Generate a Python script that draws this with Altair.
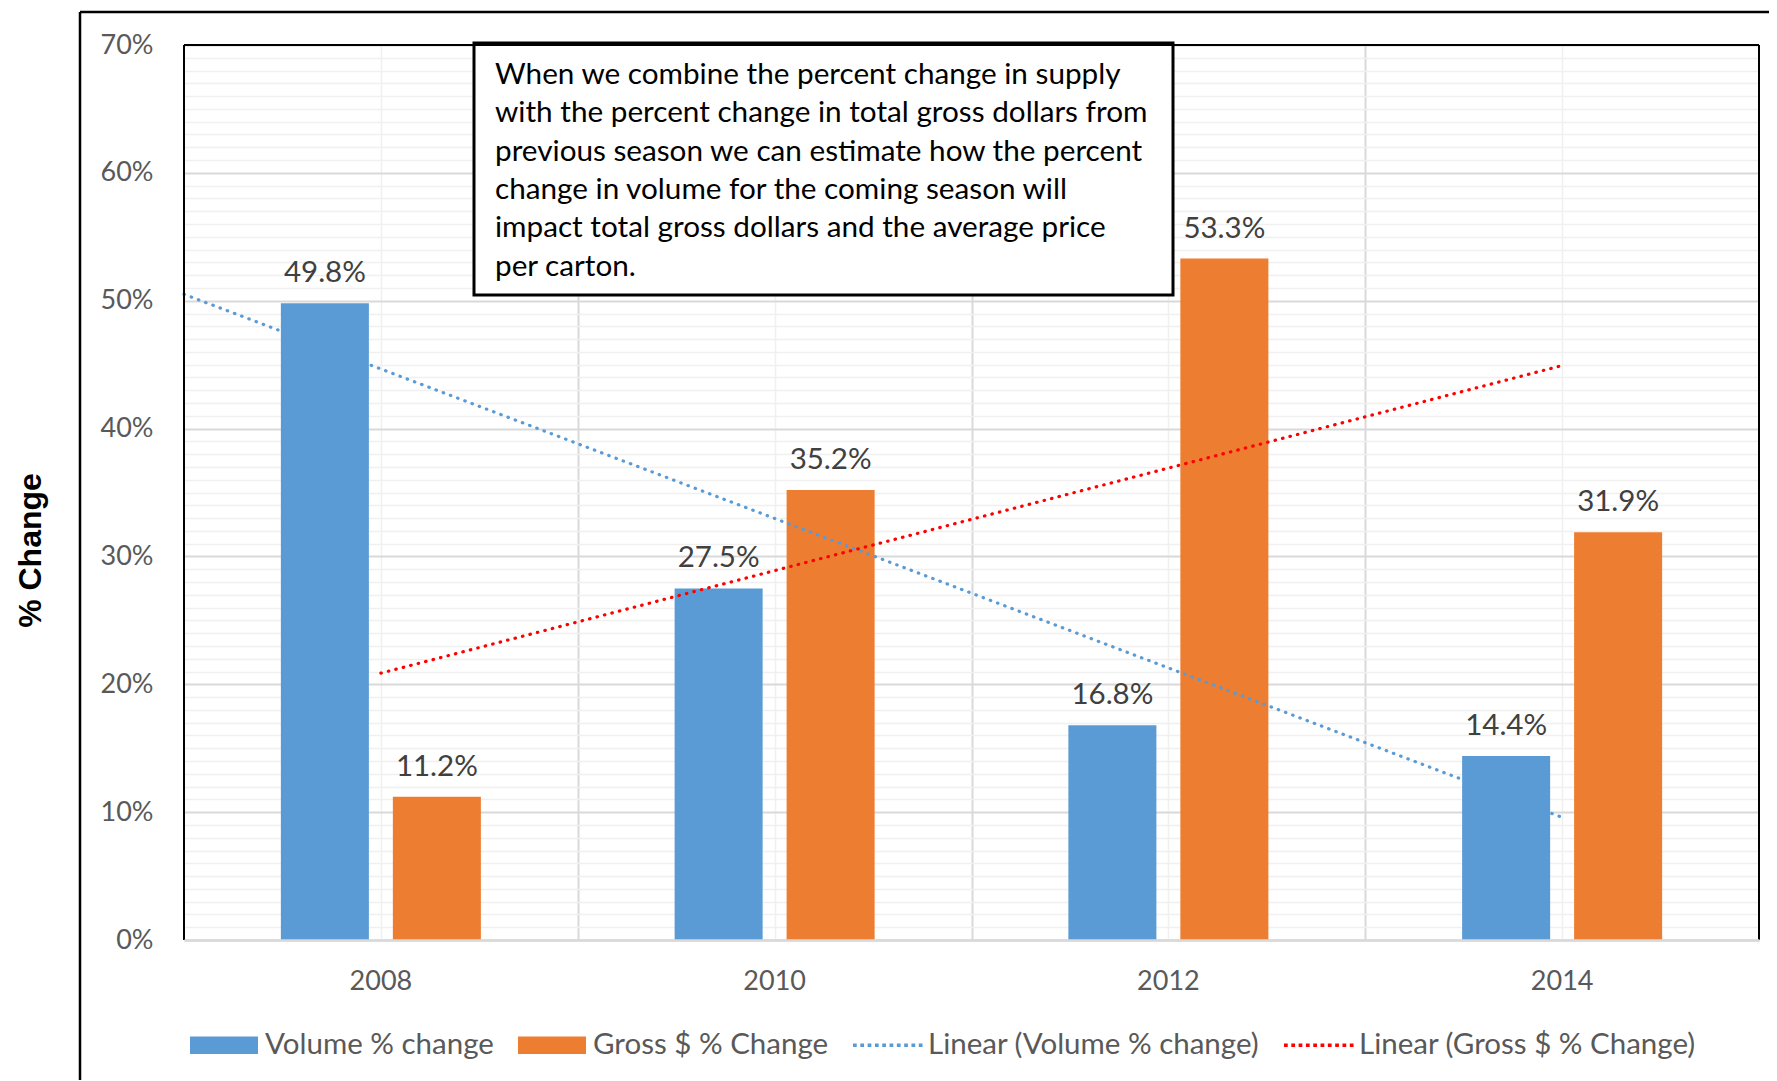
import altair as alt
import pandas as pd

# ---------------- data ----------------
years = ["2008", "2010", "2012", "2014"]
volume_pct = [49.8, 27.5, 16.8, 14.4]
gross_pct = [11.2, 35.2, 53.3, 31.9]
series_names = ["Volume % change", "Gross $ % Change"]
trend_names = ["Linear (Volume % change)", "Linear (Gross $ % Change)"]
y_max = 70
note_lines = [
    "When we combine the percent change in supply",
    "with the percent change in total gross dollars from",
    "previous season we can estimate how the percent",
    "change in volume for the coming season will",
    "impact total gross dollars and the average price",
    "per carton.",
]
axis_title = "% Change"

# ---------------- style ----------------
BLUE = "#5B9BD5"
ORANGE = "#ED7D31"
RED = "#FF0000"
MAJOR = "#D9D9D9"
MINOR = "#F0F0F0"
FONT = "Lato"
W, H = 1575, 895

rows = []
for s, vals in zip(series_names, [volume_pct, gross_pct]):
    for yr, v in zip(years, vals):
        rows.append({"year": yr, "series": s, "value": v})
df = pd.DataFrame(rows)

legend_domain = series_names + trend_names
color_scale = alt.Scale(domain=legend_domain, range=[BLUE, ORANGE, BLUE, RED])

bar_path = "M-1,-0.26H1V0.26H-1Z"
dot_path = " ".join(
    "M%.3f,-0.055h0.11v0.11h-0.11Z" % (-1 + 0.215 * i) for i in range(10)
)
shape_scale = alt.Scale(domain=legend_domain, range=[bar_path, bar_path, dot_path, dot_path])

leg_def = alt.Legend(
    orient="none",
    legendX=6,
    legendY=966,
    direction="horizontal",
    columns=4,
    title=None,
    symbolSize=4624,
    symbolStrokeWidth=0,
    symbolOpacity=1,
    labelFont=FONT,
    labelFontSize=29.5,
    labelColor="#595959",
    labelOffset=7,
    columnPadding=24,
    labelLimit=0,
)

x_scale = alt.Scale(paddingInner=0, paddingOuter=0)
xo_scale = alt.Scale(domain=series_names, paddingInner=0.214, paddingOuter=0.865)
y_scale = alt.Scale(domain=[0, y_max], nice=False)

y_axis = alt.Axis(
    title=axis_title,
    titleFont="Liberation Sans",
    titleFontWeight="bold",
    titleFontSize=32,
    titleColor="black",
    titleAngle=270,
    titleAlign="center",
    titleBaseline="alphabetic",
    titleX=-144,
    titleY=505,
    values=list(range(0, y_max + 1)),
    labelExpr="datum.value % 10 == 0 ? datum.value + '%' : ''",
    labelOverlap=False,
    labelFlush=False,
    labelFont=FONT,
    labelFontSize=27,
    labelColor="#595959",
    labelPadding=31,
    ticks=False,
    tickSize=0,
    domain=False,
    grid=True,
    gridColor={"condition": {"test": "datum.value % 10 == 0", "value": MAJOR}, "value": MINOR},
    gridWidth={"condition": {"test": "datum.value % 10 == 0", "value": 2}, "value": 1.5},
)

x_axis = alt.Axis(
    title=None,
    labelAngle=0,
    labelFont=FONT,
    labelFontSize=27,
    labelColor="#595959",
    labelPadding=41,
    labelBaseline="middle",
    ticks=False,
    tickSize=0,
    domainColor=MAJOR,
    domainWidth=2.5,
    grid=False,
    zindex=1,
)

base = alt.Chart(df)

bars = base.mark_bar().encode(
    x=alt.X("year:O", scale=x_scale, axis=x_axis),
    xOffset=alt.XOffset("series:N", scale=xo_scale, sort=series_names),
    y=alt.Y("value:Q", scale=y_scale, axis=y_axis),
    color=alt.Color("series:N", scale=color_scale, legend=leg_def),
)

bar_labels = base.transform_calculate(
    label="format(datum.value, '.1f') + '%'"
).mark_text(font=FONT, fontSize=29.5, color="#404040", baseline="alphabetic", dy=-21).encode(
    x=alt.X("year:O", scale=x_scale, axis=x_axis),
    xOffset=alt.XOffset("series:N", scale=xo_scale, sort=series_names),
    y=alt.Y("value:Q", scale=y_scale, axis=y_axis),
    text="label:N",
)

grid_axis = alt.Axis(
    orient="top",
    values=[1, 1.5, 2, 2.5, 3, 3.5, 4],
    labels=False,
    ticks=False,
    domain=False,
    title=None,
    grid=True,
    gridColor={"condition": {"test": "datum.value % 1 == 0", "value": MINOR}, "value": MAJOR},
    gridWidth={"condition": {"test": "datum.value % 1 == 0", "value": 1.5}, "value": 2},
)


def trend(series, tname, extent):
    return base.transform_filter(alt.datum.series == series).transform_window(
        idx="row_number()", sort=[alt.SortField("year")]
    ).transform_regression("idx", "value", extent=extent).transform_calculate(
        trend="'" + tname + "'"
    ).mark_line(strokeWidth=3.2, strokeDash=[0.5, 7.2], strokeCap="round").encode(
        x=alt.X("idx:Q", scale=alt.Scale(domain=[0.5, 4.5], nice=False, zero=False), axis=grid_axis),
        y=alt.Y("value:Q", scale=y_scale, axis=y_axis),
        color=alt.Color("trend:N", scale=color_scale, legend=leg_def),
    )


# Excel-style linear trendlines (volume one with a half-period backward forecast)
trend_vol = trend(series_names[0], trend_names[0], [0.5, 4])
trend_gross = trend(series_names[1], trend_names[1], [1, 4])

legend_layer = alt.Chart(pd.DataFrame({"name": legend_domain})).transform_filter("false").mark_point(
    filled=True, opacity=1, strokeWidth=0
).encode(
    color=alt.Color("name:N", scale=color_scale, legend=leg_def),
    shape=alt.Shape("name:N", scale=shape_scale, legend=leg_def),
)

one = pd.DataFrame({"k": [0]})
note_box = alt.Chart(one).mark_rect(fill="white", stroke="black", strokeWidth=3).encode(
    x=alt.value(290), x2=alt.value(989), y=alt.value(-2), y2=alt.value(250)
)
note_text = alt.Chart(one).mark_text(
    align="left", baseline="alphabetic", font=FONT, fontSize=29.7, lineHeight=38.3, color="black"
).encode(x=alt.value(311), y=alt.value(39), text=alt.value(note_lines))


def rule(x, y, x2=None, y2=None, w=2):
    enc = {"x": alt.value(x), "y": alt.value(y)}
    if x2 is not None:
        enc["x2"] = alt.value(x2)
    if y2 is not None:
        enc["y2"] = alt.value(y2)
    return alt.Chart(one).mark_rule(color="black", strokeWidth=w).encode(**enc)


frames = [
    rule(0, 0, x2=W),
    rule(0, 0, y2=H),
    rule(W, 0, y2=H),
    rule(-104, -33, x2=W + 40, w=2.5),
    rule(-104, -33, y2=H + 300, w=2.5),
]

chart = alt.layer(
    alt.layer(bars, bar_labels),
    alt.layer(trend_vol, trend_gross),
    legend_layer,
    note_box,
    note_text,
    *frames,
).resolve_scale(x="independent").properties(
    width=W,
    height=H,
    padding={"left": 176, "top": 37, "right": 10, "bottom": 140},
    autosize=alt.AutoSizeParams(type="none"),
    background="white",
).configure_view(stroke=None)

chart.save("out.html", embed_options={"renderer": "svg", "actions": False})
